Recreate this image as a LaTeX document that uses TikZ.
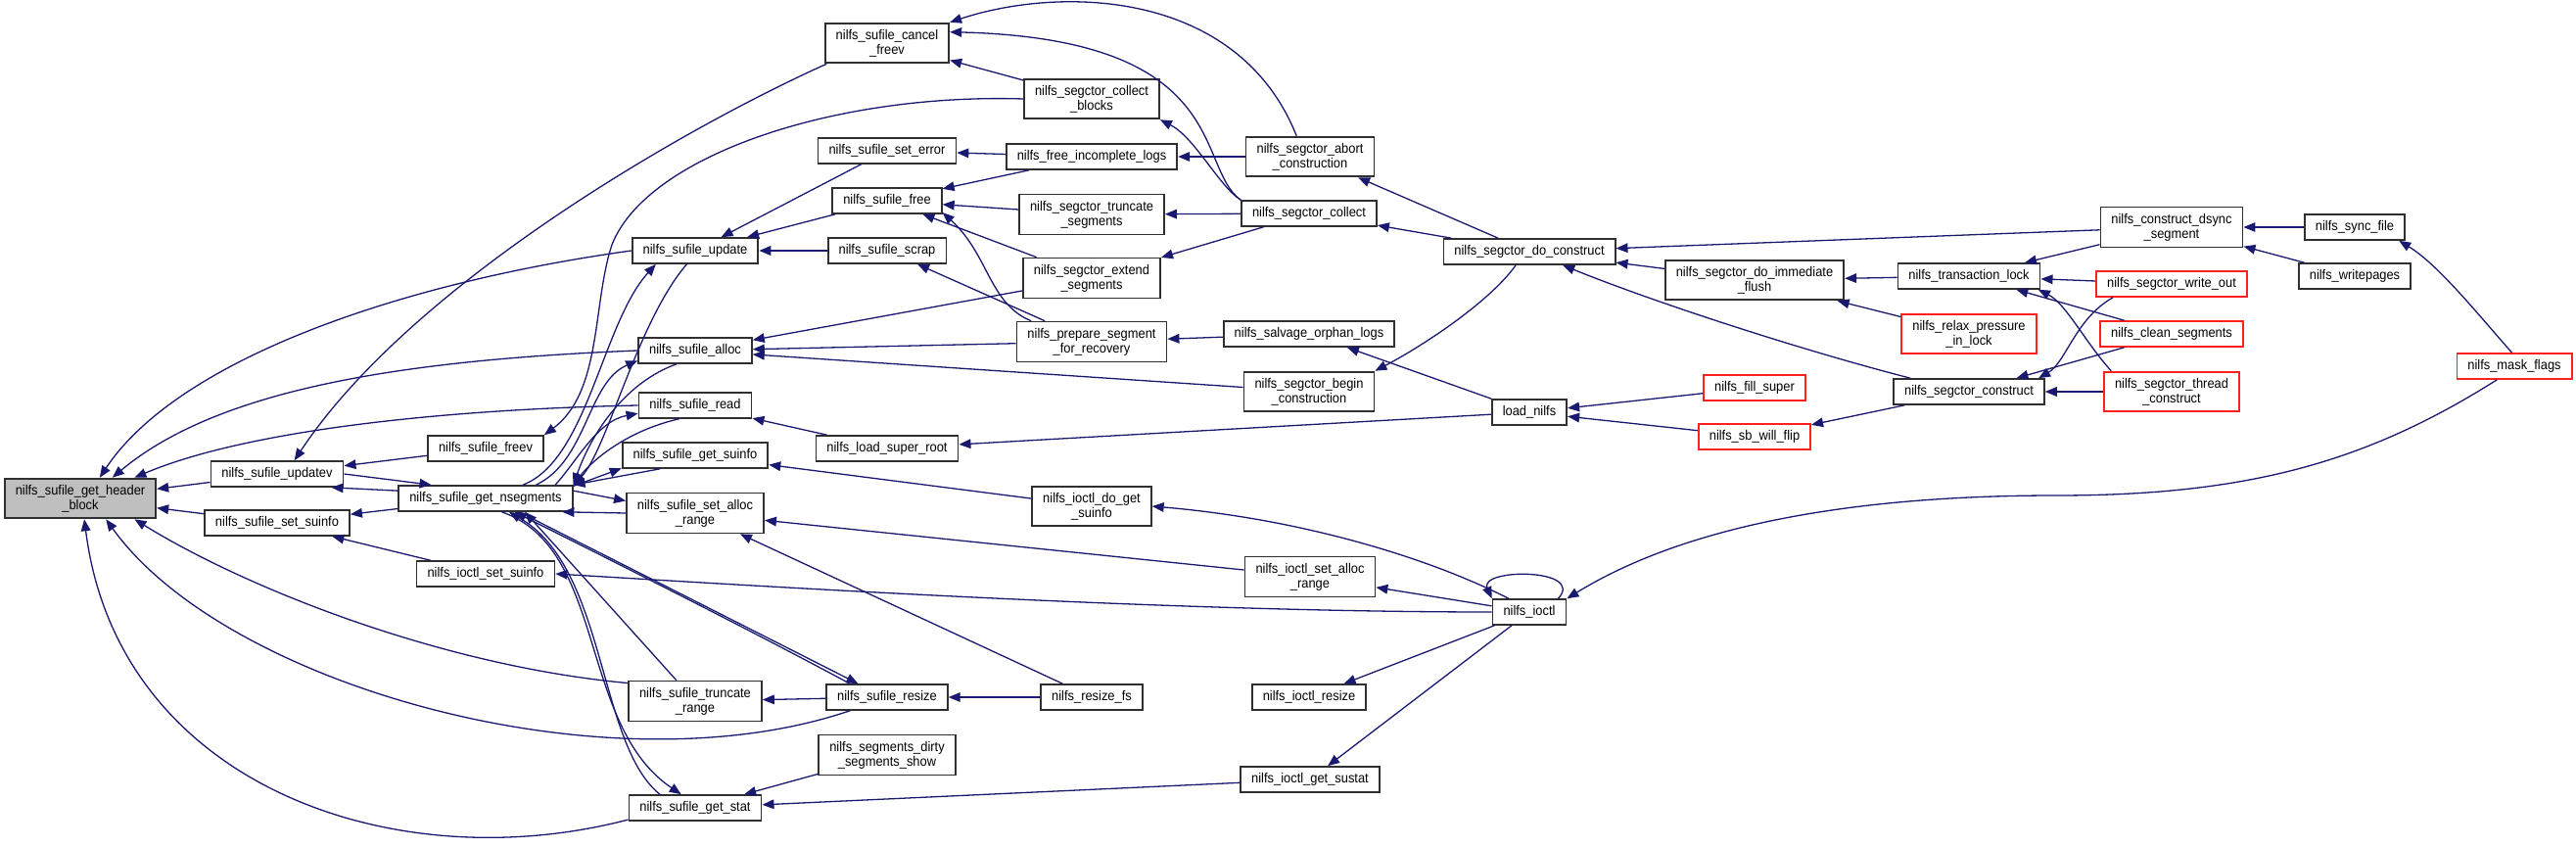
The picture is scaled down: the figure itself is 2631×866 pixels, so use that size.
\documentclass[tikz,border=0pt]{standalone}
\usepackage{fontspec}
\setmainfont{Liberation Sans}[FakeStretch=0.92]
\usetikzlibrary{arrows.meta}

\definecolor{edgeblue}{HTML}{191970}
\definecolor{fnborder}{HTML}{303030}
\definecolor{fnredline}{HTML}{FF2020}
\definecolor{fnmaingray}{HTML}{BFBFBF}
\newcommand{\fnfont}{\fontsize{7}{7.5}\selectfont}

\begin{document}
\begin{tikzpicture}[x=0.5pt, y=-0.5pt,
          fn/.style={draw=fnborder, fill=white, line width=0.9pt, inner xsep=5.5pt,
            inner ysep=3.2pt, minimum height=12.5pt, align=center, font=\fnfont},
          fnred/.style={fn, draw=fnredline},
          fnmain/.style={fn, fill=fnmaingray},
          call/.style={draw=edgeblue, line width=0.65pt, -{Triangle[length=6pt,width=4.8pt]}},
        ]
          \useasboundingbox (0,0) rectangle (2631,866);

          \node[fnmain] (hdr)        at (82,509)   {nilfs\_sufile\_get\_header\\\_block};
          \node[fn] (updatev)        at (283,484)  {nilfs\_sufile\_updatev};
          \node[fn] (setsuinfo)      at (283,534)  {nilfs\_sufile\_set\_suinfo};
          \node[fn] (freev)          at (496,458)  {nilfs\_sufile\_freev};
          \node[fn] (nseg)           at (496,509)  {nilfs\_sufile\_get\_nsegments};
          \node[fn] (ioctlsetsuinfo) at (496,586)  {nilfs\_ioctl\_set\_suinfo};
          \node[fn] (update)         at (710,256)  {nilfs\_sufile\_update};
          \node[fn] (alloc)          at (710,358)  {nilfs\_sufile\_alloc};
          \node[fn] (read)           at (710,414)  {nilfs\_sufile\_read};
          \node[fn] (getsuinfo)      at (710,465)  {nilfs\_sufile\_get\_suinfo};
          \node[fn] (setalloc)       at (710,524)  {nilfs\_sufile\_set\_alloc\\\_range};
          \node[fn] (truncrange)     at (710,716)  {nilfs\_sufile\_truncate\\\_range};
          \node[fn] (getstat)        at (710,825)  {nilfs\_sufile\_get\_stat};
          \node[fn] (cancelfreev)    at (906,44)   {nilfs\_sufile\_cancel\\\_freev};
          \node[fn] (seterror)       at (906,154)  {nilfs\_sufile\_set\_error};
          \node[fn] (free)           at (906,205)  {nilfs\_sufile\_free};
          \node[fn] (scrap)          at (906,256)  {nilfs\_sufile\_scrap};
          \node[fn] (loadsr)         at (906,458)  {nilfs\_load\_super\_root};
          \node[fn] (resize)         at (906,712)  {nilfs\_sufile\_resize};
          \node[fn] (dirtyshow)      at (906,771)  {nilfs\_segments\_dirty\\\_segments\_show};
          \node[fn] (collectblocks)  at (1115,101) {nilfs\_segctor\_collect\\\_blocks};
          \node[fn] (incomplete)     at (1115,160) {nilfs\_free\_incomplete\_logs};
          \node[fn] (truncseg)       at (1115,219) {nilfs\_segctor\_truncate\\\_segments};
          \node[fn] (extendseg)      at (1115,284) {nilfs\_segctor\_extend\\\_segments};
          \node[fn] (prepare)        at (1115,349) {nilfs\_prepare\_segment\\\_for\_recovery};
          \node[fn] (dogetsuinfo)    at (1115,517) {nilfs\_ioctl\_do\_get\\\_suinfo};
          \node[fn] (resizefs)       at (1115,712) {nilfs\_resize\_fs};
          \node[fn] (abort)          at (1338,160) {nilfs\_segctor\_abort\\\_construction};
          \node[fn] (collect)        at (1337,218) {nilfs\_segctor\_collect};
          \node[fn] (salvage)        at (1337,341) {nilfs\_salvage\_orphan\_logs};
          \node[fn] (begin)          at (1337,400) {nilfs\_segctor\_begin\\\_construction};
          \node[fn] (ioctlsetalloc)  at (1338,589) {nilfs\_ioctl\_set\_alloc\\\_range};
          \node[fn] (ioctlresize)    at (1337,712) {nilfs\_ioctl\_resize};
          \node[fn] (ioctlsustat)    at (1338,796) {nilfs\_ioctl\_get\_sustat};
          \node[fn] (doconstruct)    at (1562,257) {nilfs\_segctor\_do\_construct};
          \node[fn] (loadnilfs)      at (1562,421) {load\_nilfs};
          \node[fn] (ioctl)          at (1562,625) {nilfs\_ioctl};
          \node[fn] (flush)          at (1792,286) {nilfs\_segctor\_do\_immediate\\\_flush};
          \node[fnred] (fillsuper)   at (1792,396) {nilfs\_fill\_super};
          \node[fnred] (sbflip)      at (1792,446) {nilfs\_sb\_will\_flip};
          \node[fn] (translock)      at (2011,282) {nilfs\_transaction\_lock};
          \node[fnred] (relax)       at (2011,341) {nilfs\_relax\_pressure\\\_in\_lock};
          \node[fn] (segconstruct)   at (2011,400) {nilfs\_segctor\_construct};
          \node[fn] (dsync)          at (2218,232) {nilfs\_construct\_dsync\\\_segment};
          \node[fnred] (writeout)    at (2218,290) {nilfs\_segctor\_write\_out};
          \node[fnred] (clean)       at (2218,341) {nilfs\_clean\_segments};
          \node[fnred] (thread)      at (2218,400) {nilfs\_segctor\_thread\\\_construct};
          \node[fn] (syncfile)       at (2405,232) {nilfs\_sync\_file};
          \node[fn] (writepages)     at (2405,282) {nilfs\_writepages};
          \node[fnred] (maskflags)   at (2568,374) {nilfs\_mask\_flags};

          \draw[call] (updatev) -- (hdr);
          \draw[call] (setsuinfo) -- (hdr);
          \draw[call] (update.west) .. controls (400,290) and (180,370) .. (hdr.47);
          \draw[call] (alloc.west) .. controls (400,368) and (220,400) .. (hdr.33);
          \draw[call] (read.west) .. controls (450,418) and (250,440) .. (hdr.21);
          \draw[call] (truncrange.165) .. controls (450,680) and (250,600) .. (hdr.-21);
          \draw[call] (resize.-160) .. controls (620,810) and (230,700) .. (hdr.-39);
          \draw[call] (getstat.-170) .. controls (400,900) and (120,800) .. (hdr.-79);

          \draw[call] (freev) -- (updatev);
          \draw[call] (nseg.175) -- (updatev.-14);
          \draw[call] (cancelfreev.-161) .. controls (700,130) and (420,290) .. (updatev.38);
          \draw[call] (updatev.east) -- (nseg.166);
          \draw[call] (nseg) -- (setsuinfo);
          \draw[call] (ioctlsetsuinfo) -- (setsuinfo);
          \draw[call] (collectblocks.west) .. controls (850,95) and (660,160) .. (625,250)
                      .. controls (605,310) and (615,400) .. (freev.north east);

          \draw[call] (nseg.20) .. controls (600,470) and (615,330) .. (update.199);
          \draw[call] (update.238) .. controls (650,330) and (620,460) .. (nseg.north east);
          \draw[call] (nseg.15) .. controls (600,470) and (600,390) .. (alloc.190);
          \draw[call] (alloc.216) .. controls (640,390) and (605,440) .. (nseg.north east);
          \draw[call] (nseg.11) .. controls (590,470) and (610,430) .. (read.188);
          \draw[call] (read.220) .. controls (640,440) and (605,470) .. (nseg.north east);
          \draw[call] (nseg.8) -- (getsuinfo.190);
          \draw[call] (getsuinfo.201) -- (nseg.north east);
          \draw[call] (nseg.5) -- (setalloc.170);
          \draw[call] (setalloc.west) -- (nseg.-10);
          \draw[call] (truncrange.132) -- (nseg.-19);
          \draw[call] (nseg.-22) -- (resize.155);
          \draw[call] (resize.160) .. controls (760,640) and (600,560) .. (nseg.-25);
          \draw[call] (nseg.-40) .. controls (620,560) and (590,740) .. (getstat.136);
          \draw[call] (getstat.159) .. controls (610,760) and (620,580) .. (nseg.-30);

          \draw[call] (seterror) -- (update);
          \draw[call] (free) -- (update);
          \draw[call] (scrap) -- (update);
          \draw[call] (collectblocks) -- (cancelfreev);
          \draw[call] (abort.123) .. controls (1265,-10) and (1085,-15) .. (cancelfreev.north east);
          \draw[call] (collect.north west) .. controls (1220,170) and (1260,40) .. (cancelfreev.10);
          \draw[call] (incomplete) -- (seterror);
          \draw[call] (incomplete) -- (free);
          \draw[call] (truncseg) -- (free);
          \draw[call] (extendseg) -- (free);
          \draw[call] (prepare.161) .. controls (1010,310) and (1010,260) .. (free.-12);
          \draw[call] (prepare) -- (scrap);
          \draw[call] (extendseg) -- (alloc);
          \draw[call] (prepare) -- (alloc);
          \draw[call] (begin) -- (alloc);
          \draw[call] (loadsr) -- (read);
          \draw[call] (dogetsuinfo) -- (getsuinfo);
          \draw[call] (ioctlsetalloc) -- (setalloc);
          \draw[call] (resizefs) -- (setalloc);
          \draw[call] (resize) -- (truncrange);
          \draw[call] (resizefs) -- (resize);
          \draw[call] (dirtyshow) -- (getstat);
          \draw[call] (ioctlsustat) -- (getstat);

          \draw[call] (collect.north west) .. controls (1245,190) and (1220,140) .. (collectblocks.south east);
          \draw[call] (abort) -- (incomplete);
          \draw[call] (collect) -- (truncseg);
          \draw[call] (collect) -- (extendseg);
          \draw[call] (salvage) -- (prepare);
          \draw[call] (loadnilfs) -- (loadsr);
          \draw[call] (ioctl.147) .. controls (1460,570) and (1330,530) .. (dogetsuinfo.east);
          \draw[call] (ioctl) -- (ioctlsetalloc);
          \draw[call] (ioctl.west) .. controls (1200,625) and (800,600) .. (ioctlsetsuinfo.east);
          \draw[call] (ioctl) -- (ioctlresize);
          \draw[call] (ioctl) -- (ioctlsustat);

          \draw[call] (doconstruct) -- (abort);
          \draw[call] (doconstruct) -- (collect);
          \draw[call] (doconstruct.-135) .. controls (1520,310) and (1450,355) .. (begin.north east);
          \draw[call] (loadnilfs) -- (salvage);
          \draw[call] (dsync) -- (doconstruct);
          \draw[call] (flush) -- (doconstruct);
          \draw[call] (segconstruct.167) .. controls (1830,355) and (1680,305) .. (doconstruct.-22);
          \draw[call] (fillsuper) -- (loadnilfs);
          \draw[call] (sbflip) -- (loadnilfs);
          \draw[call] (ioctl.25) .. controls (1620,580) and (1510,580) .. (ioctl.north west);
          \draw[call] (maskflags.-142) .. controls (2420,470) and (2300,506) .. (2100,506)
                      .. controls (1850,506) and (1700,550) .. (ioctl.north east);

          \draw[call] (translock) -- (flush);
          \draw[call] (relax) -- (flush);
          \draw[call] (segconstruct) -- (sbflip);
          \draw[call] (dsync) -- (translock);
          \draw[call] (writeout) -- (translock);
          \draw[call] (clean) -- (translock);
          \draw[call] (thread.161) .. controls (2130,350) and (2110,310) .. (translock.-11);
          \draw[call] (writeout.-167) .. controls (2120,325) and (2110,370) .. (segconstruct.11);
          \draw[call] (clean) -- (segconstruct);
          \draw[call] (thread) -- (segconstruct);
          \draw[call] (syncfile) -- (dsync);
          \draw[call] (writepages) -- (dsync);
          \draw[call] (maskflags.100) .. controls (2530,320) and (2490,270) .. (syncfile.-17);
        \end{tikzpicture}
\end{document}
